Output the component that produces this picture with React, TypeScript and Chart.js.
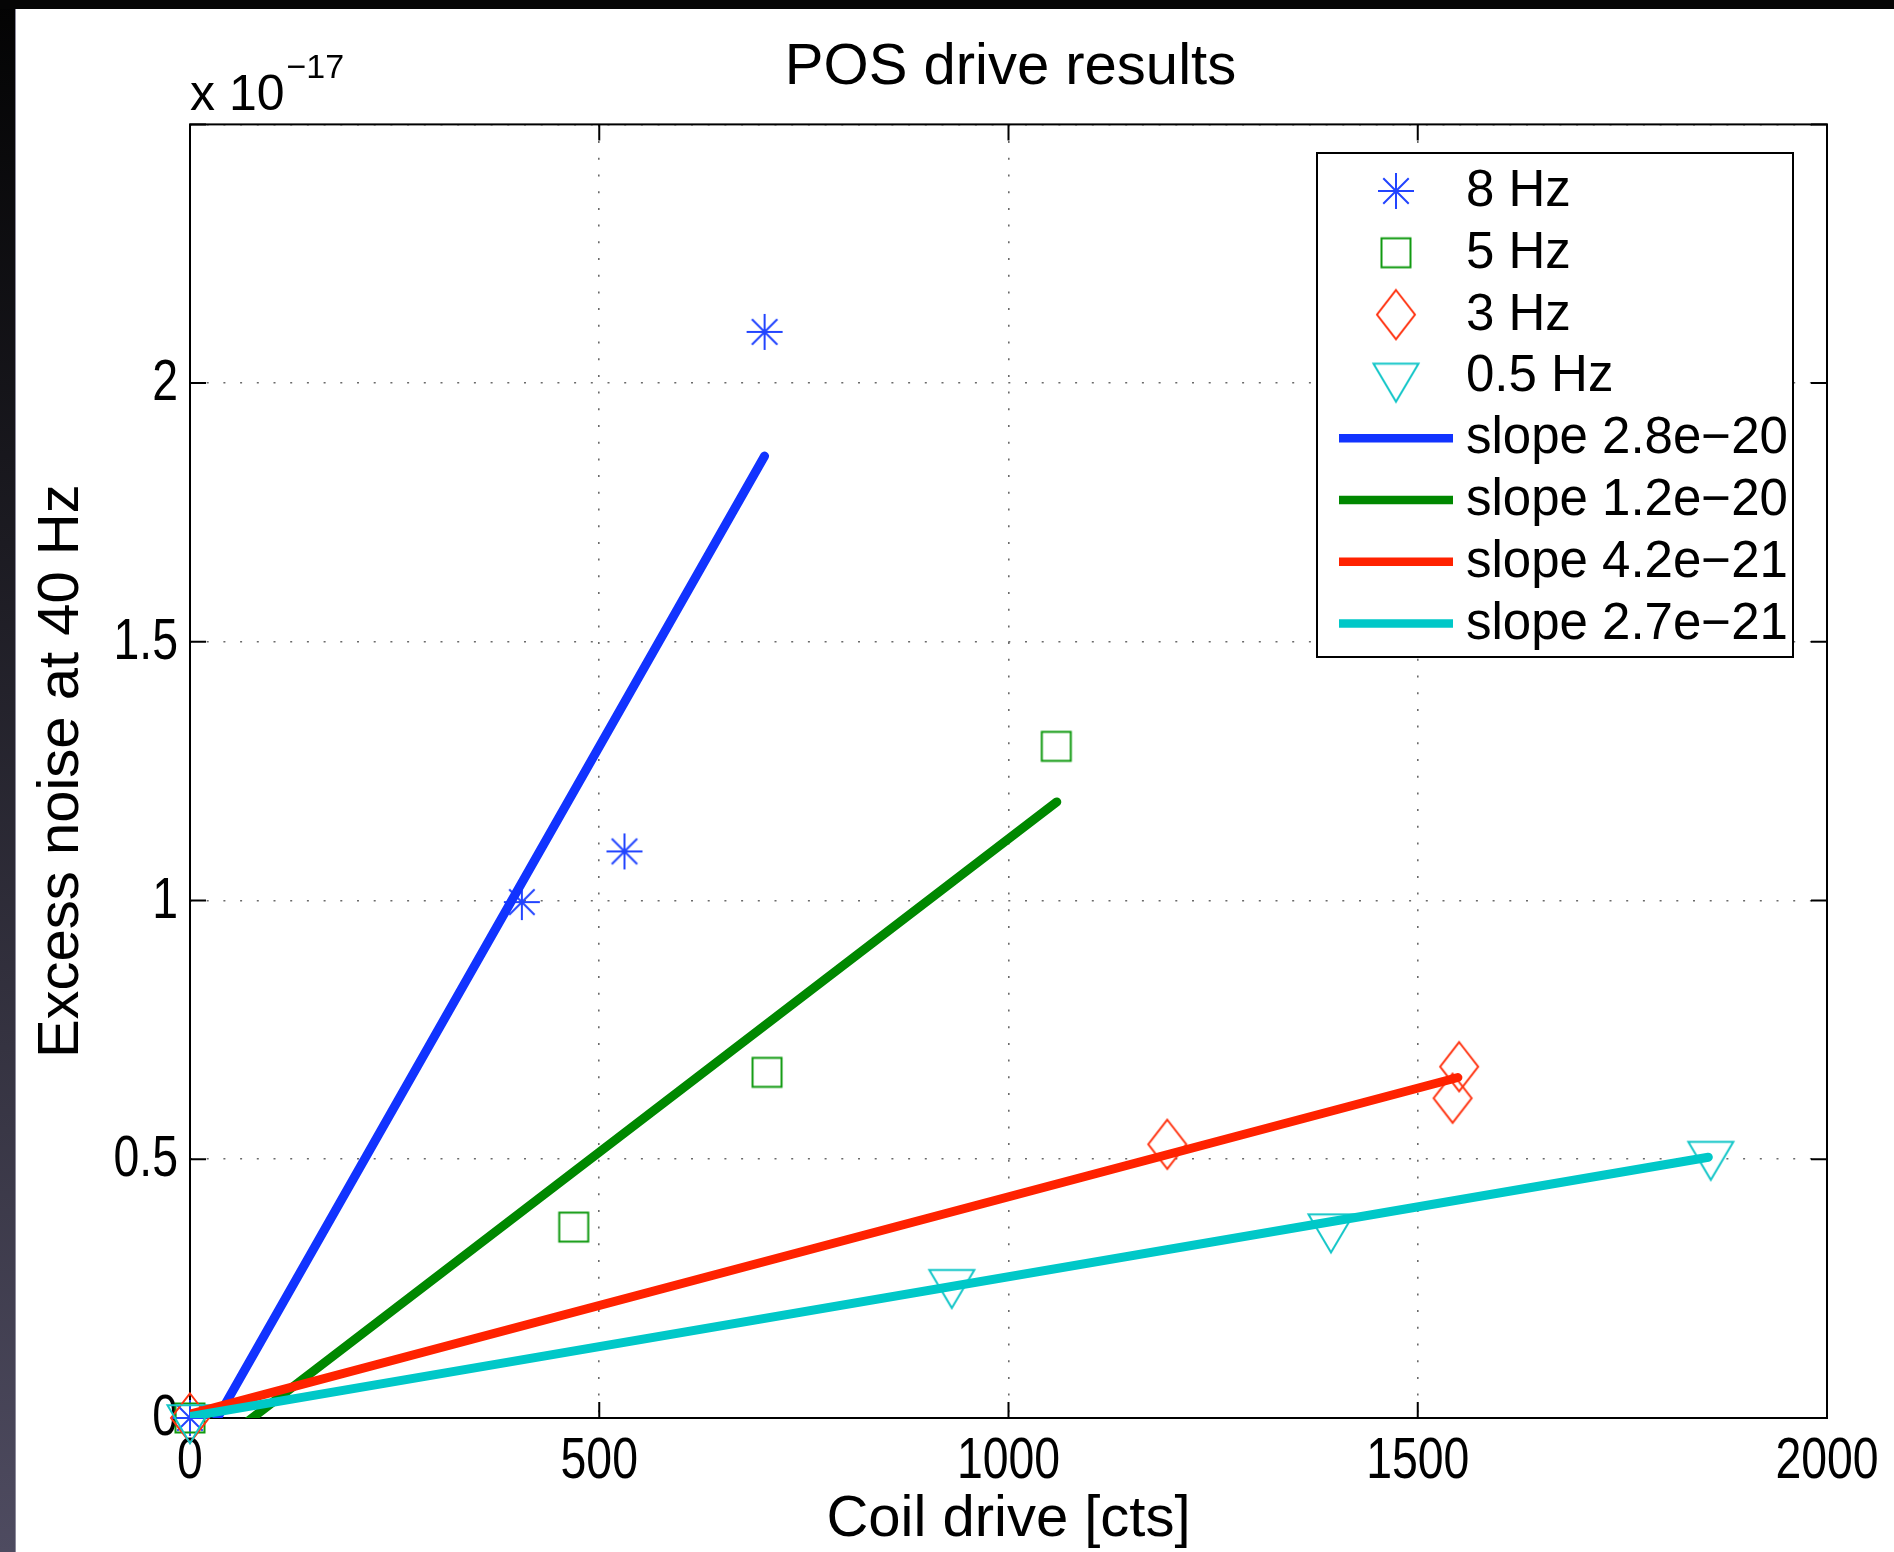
import { useEffect, useRef } from 'react';
import { Chart, registerables } from 'chart.js';

Chart.register(...registerables);

// ---- text ----
const TITLE = 'POS drive results';
const X_LABEL = 'Coil drive [cts]';
const Y_LABEL = 'Excess noise at 40 Hz';
const Y_EXP_BASE = 'x 10';
const Y_EXP_POWER = '\u221217';

// ---- axes ----
const X_MIN = 0;
const X_MAX = 2000;
const X_STEP = 500;
const X_TICK_LABELS = [0, 500, 1000, 1500, 2000];
const Y_MIN = 0;
const Y_MAX = 2.5;
const Y_STEP = 0.5;
const Y_TICK_LABELS = [0, 0.5, 1, 1.5, 2];

// ---- measured points (y in units of 1e-17) ----
const hz8Label = '8 Hz';
const hz8X = [0, 405.4, 530.8, 702];
const hz8Y = [0, 0.997, 1.095, 2.099];

const hz5Label = '5 Hz';
const hz5X = [0, 468.8, 705, 1058.4];
const hz5Y = [0, 0.369, 0.668, 1.298];

const hz3Label = '3 Hz';
const hz3X = [0, 1194, 1542.6, 1550.6];
const hz3Y = [0, 0.529, 0.618, 0.679];

const hz05Label = '0.5 Hz';
const hz05X = [0, 930.7, 1394, 1858];
const hz05Y = [0, 0.2615, 0.3688, 0.509];

// ---- linear fits ----
const fit8Label = 'slope 2.8e\u221220';
const fit8X = [0, 702];
const fit8Y = [-0.093, 1.859];

const fit5Label = 'slope 1.2e\u221220';
const fit5X = [0, 1059];
const fit5Y = [-0.092, 1.1906];

const fit3Label = 'slope 4.2e\u221221';
const fit3X = [0, 1549];
const fit3Y = [0.0075, 0.658];

const fit05Label = 'slope 2.7e\u221221';
const fit05X = [0, 1855];
const fit05Y = [0.003, 0.504];

const COLORS = {
  blueLine: '#1133ff',
  greenLine: '#008800',
  redLine: '#ff2200',
  cyanLine: '#00c8c8',
  star: '#2244ff',
  square: '#109a10',
  diamond: '#ff3311',
  triangle: '#14c6c8',
};

const SANS = '"Liberation Sans", Arial, Helvetica, sans-serif';

function pts(xs: number[], ys: number[]) {
  return xs.map((x, i) => ({ x, y: ys[i] }));
}

function makeMarker(kind: string, color: string): HTMLCanvasElement {
  const c = document.createElement('canvas');
  let w = 40;
  let h = 40;
  if (kind === 'square') { w = 34; h = 34; }
  if (kind === 'diamond') { w = 44; h = 54; }
  if (kind === 'triangle') { w = 50; h = 56; }
  c.width = w;
  c.height = h;
  const g = c.getContext('2d') as CanvasRenderingContext2D;
  g.strokeStyle = color;
  g.lineWidth = 2;
  g.lineJoin = 'miter';
  const cx = w / 2;
  const cy = h / 2;
  g.beginPath();
  if (kind === 'star') {
    const r = 18;
    for (let k = 0; k < 4; k++) {
      const a = (k * Math.PI) / 4;
      g.moveTo(cx - r * Math.cos(a), cy - r * Math.sin(a));
      g.lineTo(cx + r * Math.cos(a), cy + r * Math.sin(a));
    }
  } else if (kind === 'square') {
    g.rect(cx - 14.5, cy - 14.5, 29, 29);
  } else if (kind === 'diamond') {
    g.moveTo(cx, cy - 24.5);
    g.lineTo(cx + 19, cy);
    g.lineTo(cx, cy + 24.5);
    g.lineTo(cx - 19, cy);
    g.closePath();
  } else {
    const th = 38;
    const top = cy - th / 3;
    g.moveTo(cx - 22.5, top);
    g.lineTo(cx + 22.5, top);
    g.lineTo(cx, top + th);
    g.closePath();
  }
  g.stroke();
  return c;
}

export default function App() {
  const ref = useRef<HTMLCanvasElement | null>(null);

  useEffect(() => {
    document.body.style.margin = '0';
    const canvas = ref.current;
    if (!canvas) return;

    const starImg = makeMarker('star', COLORS.star);
    const squareImg = makeMarker('square', COLORS.square);
    const diamondImg = makeMarker('diamond', COLORS.diamond);
    const triImg = makeMarker('triangle', COLORS.triangle);

    const markerDs = (label: string, data: any[], img: HTMLCanvasElement, order: number) => ({
      label,
      data,
      showLine: false,
      pointStyle: img,
      pointRadius: 20,
      pointHoverRadius: 20,
      borderColor: 'transparent',
      backgroundColor: 'transparent',
      clip: false,
      order,
    });
    const lineDs = (label: string, data: any[], color: string, order: number) => ({
      label,
      data,
      showLine: true,
      borderColor: color,
      backgroundColor: color,
      borderWidth: 9,
      borderCapStyle: 'round',
      pointRadius: 0,
      pointHoverRadius: 0,
      clip: 0,
      order,
    });

    const legendItems = [
      { label: hz8Label, img: starImg },
      { label: hz5Label, img: squareImg },
      { label: hz3Label, img: diamondImg },
      { label: hz05Label, img: triImg },
      { label: fit8Label, color: COLORS.blueLine },
      { label: fit5Label, color: COLORS.greenLine },
      { label: fit3Label, color: COLORS.redLine },
      { label: fit05Label, color: COLORS.cyanLine },
    ];

    const backgroundPlugin = {
      id: 'bg',
      beforeDraw(chart: any) {
        const { ctx, width, height } = chart;
        ctx.save();
        ctx.fillStyle = '#ffffff';
        ctx.fillRect(0, 0, width, height);
        const grad = ctx.createLinearGradient(0, 0, 0, height);
        grad.addColorStop(0, '#030303');
        grad.addColorStop(0.35, '#1c1b22');
        grad.addColorStop(1, '#4e4b60');
        ctx.fillStyle = grad;
        ctx.fillRect(0, 0, 15, height);
        ctx.fillStyle = '#8d8b9c';
        ctx.fillRect(15, 0, 1, height);
        ctx.fillStyle = '#050505';
        ctx.fillRect(0, 0, width, 9);
        ctx.restore();
      },
    };

    const framePlugin = {
      id: 'frame',
      beforeDatasetsDraw(chart: any) {
        const { ctx, chartArea: a, scales } = chart;
        const TL = 16;
        ctx.save();
        // inward tick marks and box
        ctx.strokeStyle = '#000000';
        ctx.lineWidth = 2;
        ctx.beginPath();
        for (const t of scales.x.ticks) {
          const px = scales.x.getPixelForValue(t.value);
          ctx.moveTo(px, a.bottom);
          ctx.lineTo(px, a.bottom - TL);
          ctx.moveTo(px, a.top);
          ctx.lineTo(px, a.top + TL);
        }
        for (const t of scales.y.ticks) {
          const py = scales.y.getPixelForValue(t.value);
          ctx.moveTo(a.left, py);
          ctx.lineTo(a.left + TL, py);
          ctx.moveTo(a.right, py);
          ctx.lineTo(a.right - TL, py);
        }
        ctx.stroke();
        ctx.strokeRect(a.left, a.top, a.right - a.left, a.bottom - a.top);

        // tick labels (Helvetica-narrow look: horizontally condensed)
        ctx.fillStyle = '#000000';
        ctx.font = `58px ${SANS}`;
        ctx.textBaseline = 'middle';
        const squeeze = 0.8;
        for (const t of scales.x.ticks) {
          if (!X_TICK_LABELS.includes(t.value)) continue;
          const px = scales.x.getPixelForValue(t.value);
          ctx.save();
          ctx.translate(px, a.bottom + 44);
          ctx.scale(squeeze, 1);
          ctx.textAlign = 'center';
          ctx.fillText(String(t.value), 0, 0);
          ctx.restore();
        }
        for (const t of scales.y.ticks) {
          if (!Y_TICK_LABELS.includes(t.value)) continue;
          const py = scales.y.getPixelForValue(t.value);
          ctx.save();
          ctx.translate(a.left - 12, py + 1);
          ctx.scale(squeeze, 1);
          ctx.textAlign = 'right';
          ctx.fillText(String(t.value), 0, 0);
          ctx.restore();
        }
        ctx.restore();
      },
    };

    const overlayPlugin = {
      id: 'overlay',
      afterDraw(chart: any) {
        const { ctx, chartArea: a } = chart;
        ctx.save();
        // title
        ctx.fillStyle = '#000000';
        ctx.font = `58px ${SANS}`;
        ctx.textAlign = 'center';
        ctx.textBaseline = 'middle';
        ctx.fillText(TITLE, (a.left + a.right) / 2 + 2, 68);

        // exponent label
        ctx.textAlign = 'left';
        ctx.textBaseline = 'alphabetic';
        ctx.font = `50px ${SANS}`;
        ctx.fillText(Y_EXP_BASE, a.left, 110);
        const bw = ctx.measureText(Y_EXP_BASE).width;
        ctx.font = `34px ${SANS}`;
        ctx.fillText(Y_EXP_POWER, a.left + bw + 2, 78);

        // legend
        const bx = 1317;
        const by = 153;
        const bx2 = 1793;
        const by2 = 657;
        ctx.fillStyle = '#ffffff';
        ctx.fillRect(bx, by, bx2 - bx, by2 - by);
        ctx.strokeStyle = '#000000';
        ctx.lineWidth = 2;
        ctx.strokeRect(bx, by, bx2 - bx, by2 - by);
        const rowStart = 191;
        const rowStep = 61.8;
        const markX = 1396;
        const textX = 1466;
        legendItems.forEach((it: any, i: number) => {
          const y = rowStart + i * rowStep;
          if (it.img) {
            const img = it.img as HTMLCanvasElement;
            ctx.drawImage(img, markX - img.width / 2, y - img.height / 2);
          } else {
            ctx.strokeStyle = it.color;
            ctx.lineWidth = 8.5;
            ctx.lineCap = 'butt';
            ctx.beginPath();
            ctx.moveTo(1339, y);
            ctx.lineTo(1453, y);
            ctx.stroke();
          }
          ctx.fillStyle = '#000000';
          ctx.font = `51px ${SANS}`;
          ctx.textBaseline = 'middle';
          ctx.fillText(it.label, textX, y + 1);
        });
        ctx.restore();
      },
    };

    const chart = new Chart(canvas, {
      type: 'scatter',
      data: {
        datasets: [
          markerDs(hz8Label, pts(hz8X, hz8Y), starImg, 8),
          markerDs(hz5Label, pts(hz5X, hz5Y), squareImg, 7),
          markerDs(hz3Label, pts(hz3X, hz3Y), diamondImg, 6),
          markerDs(hz05Label, pts(hz05X, hz05Y), triImg, 5),
          lineDs(fit8Label, pts(fit8X, fit8Y), COLORS.blueLine, 4),
          lineDs(fit5Label, pts(fit5X, fit5Y), COLORS.greenLine, 3),
          lineDs(fit3Label, pts(fit3X, fit3Y), COLORS.redLine, 2),
          lineDs(fit05Label, pts(fit05X, fit05Y), COLORS.cyanLine, 1),
        ] as any,
      },
      options: {
        responsive: false,
        animation: false,
        devicePixelRatio: 1,
        events: [],
        layout: { padding: { left: 0, top: 124.4, right: 67, bottom: 0 } },
        plugins: {
          legend: { display: false },
          tooltip: { enabled: false },
          title: { display: false },
        },
        scales: {
          x: {
            type: 'linear',
            min: X_MIN,
            max: X_MAX,
            afterFit(scale: any) {
              scale.height = 134;
              scale.paddingLeft = 0;
              scale.paddingRight = 0;
            },
            ticks: {
              display: false,
              stepSize: X_STEP,
              autoSkip: false,
              maxRotation: 0,
            },
            grid: { color: '#6a6a6a', lineWidth: 1.6, drawTicks: false },
            border: { display: false, dash: [2, 14.7] },
            title: {
              display: true,
              text: X_LABEL,
              color: '#000000',
              font: { family: SANS, size: 58, lineHeight: 1 },
              padding: { top: 0, bottom: 3 },
            },
          },
          y: {
            type: 'linear',
            min: Y_MIN,
            max: Y_MAX,
            afterFit(scale: any) {
              scale.width = 190;
              scale.paddingTop = 0;
              scale.paddingBottom = 0;
            },
            ticks: {
              display: false,
              stepSize: Y_STEP,
              autoSkip: false,
            },
            grid: { color: '#6a6a6a', lineWidth: 1.6, drawTicks: false },
            border: { display: false, dash: [2, 14.7] },
            title: {
              display: true,
              text: Y_LABEL,
              color: '#000000',
              font: { family: SANS, size: 58, lineHeight: 1 },
              padding: { top: 33, bottom: 0 },
            },
          },
        },
      } as any,
      plugins: [backgroundPlugin, framePlugin, overlayPlugin],
    });

    return () => chart.destroy();
  }, []);

  return (
    <div style={{ width: 1894, height: 1552, position: 'relative' }}>
      <canvas ref={ref} width={1894} height={1552} style={{ width: 1894, height: 1552, display: 'block' }} />
    </div>
  );
}
